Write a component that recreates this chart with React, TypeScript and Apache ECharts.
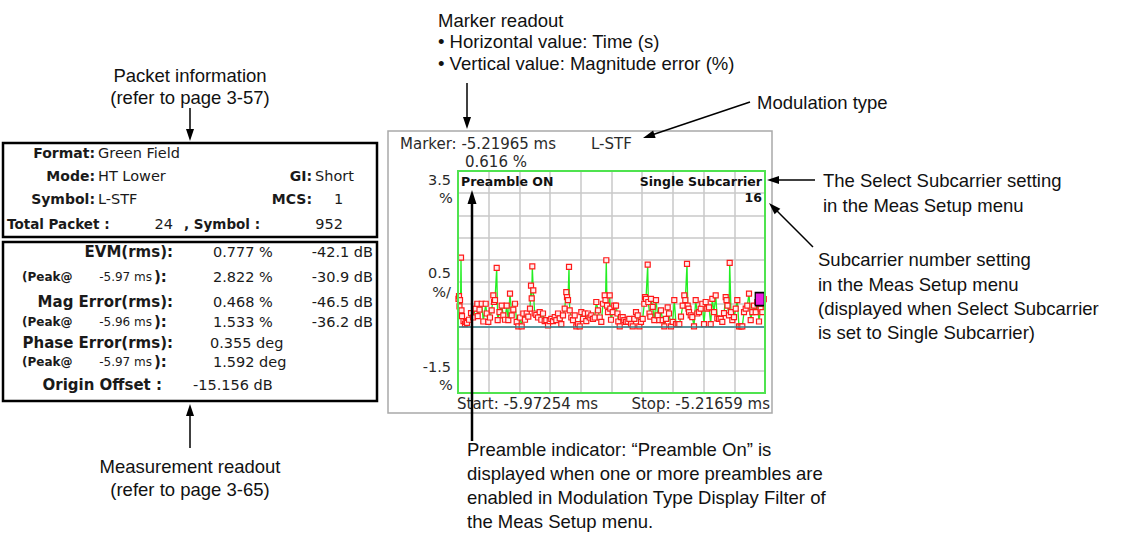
import React, { useEffect, useRef } from "react";
import * as echarts from "echarts";

// ---------- data ----------
const START_MS = -5.97254;
const STOP_MS = -5.21659;
const MARKER_MS = -5.21965;
const MARKER_PCT = 0.616;
const MOD_TYPE = "L-STF";

const timeMs = [
  -5.97131, -5.97008, -5.96885, -5.96762, -5.96638, -5.96515, -5.96392, -5.96269, -5.959, -5.9553,
  -5.95358, -5.95038, -5.94545, -5.94053, -5.9356, -5.92945, -5.92502, -5.92403, -5.9196, -5.91418,
  -5.91024, -5.90433, -5.90187, -5.89793, -5.89374, -5.88956, -5.88562, -5.88389, -5.88143, -5.87725,
  -5.87478, -5.87035, -5.86493, -5.86099, -5.85681, -5.85262, -5.84868, -5.8445, -5.84031, -5.83637,
  -5.83218, -5.828, -5.82406, -5.81987, -5.81569, -5.81175, -5.80756, -5.80337, -5.79943, -5.79525,
  -5.79278, -5.79106, -5.78958, -5.78712, -5.78367, -5.77973, -5.77555, -5.77136, -5.76742, -5.76324,
  -5.75905, -5.75511, -5.75092, -5.74674, -5.7428, -5.73861, -5.73443, -5.73049, -5.7263, -5.72211,
  -5.71817, -5.71399, -5.7098, -5.70586, -5.70414, -5.70168, -5.69921, -5.69749, -5.69355, -5.68936,
  -5.68518, -5.68124, -5.67705, -5.67287, -5.66893, -5.66474, -5.66056, -5.65662, -5.65243, -5.64824,
  -5.6443, -5.64012, -5.63593, -5.63199, -5.6278, -5.62362, -5.61968, -5.61549, -5.61131, -5.60934,
  -5.60737, -5.60564, -5.60318, -5.599, -5.59752, -5.59579, -5.59161, -5.58767, -5.58348, -5.57979,
  -5.57782, -5.57437, -5.57117, -5.56698, -5.56304, -5.55886, -5.55467, -5.55073, -5.54654, -5.54236,
  -5.53842, -5.53423, -5.53005, -5.52611, -5.52192, -5.51773, -5.51379, -5.51207, -5.50961, -5.50542,
  -5.50394, -5.50099, -5.49902, -5.4973, -5.49311, -5.48917, -5.48498, -5.4808, -5.47686, -5.47267,
  -5.46849, -5.46455, -5.46036, -5.45618, -5.45298, -5.44805, -5.44387, -5.43993, -5.43574, -5.43156,
  -5.42762, -5.42343, -5.41924, -5.4153, -5.41284, -5.40865, -5.40693, -5.40496, -5.40373, -5.39954,
  -5.3956, -5.39141, -5.38723, -5.38329, -5.3791, -5.37492, -5.37098, -5.36679, -5.3626, -5.35866,
  -5.35448, -5.35029, -5.34635, -5.34217, -5.33798, -5.33404, -5.32985, -5.32567, -5.32173, -5.31754,
  -5.31336, -5.31139, -5.30892, -5.30523, -5.3035, -5.3003, -5.2971, -5.29292, -5.28873, -5.28479,
  -5.28061, -5.27642, -5.27248, -5.26829, -5.26411, -5.26017, -5.25598, -5.2518, -5.24786, -5.24367,
  -5.23948, -5.23554, -5.23136, -5.22717, -5.22323, MARKER_MS,
];

const magErrPct = [
  0.62, 0.68, 0.45, 0.59, 0.3, 1.55, 0.36, 0.23, 0.12, 0.05,
  0.1, 0.08, 0.15, 0.3, 0.2, 0.4, 0.51, 0.23, 0.38, 0.51,
  0.11, 0.51, 0.29, 0.1, 0.2, 0.36, 0.7, 0.55, 0.59, 1.32,
  0.14, 0.32, 0.47, 0.25, 0.15, 0.47, 0.14, 0.74, 0.25, 0.38,
  0.51, 0.1, 0.0, 0.2, 0.0, 0.29, 0.15, 0.29, 0.22, 0.4,
  0.92, 0.63, 1.35, 0.81, 0.29, 0.26, 0.2, 0.32, 0.15, 0.29,
  0.12, 0.14, 0.02, 0.12, 0.17, 0.12, 0.21, 0.14, 0.29, 0.18,
  0.05, 0.25, 0.4, 0.77, 0.66, 0.59, 1.34, 0.36, 0.2, 0.14,
  0.25, 0.0, 0.05, 0.0, 0.32, 0.17, 0.29, 0.12, 0.29, 0.2,
  0.25, 0.17, 0.2, 0.55, 0.36, 0.2, 0.1, 0.51, 0.7, 0.59,
  1.49, 0.47, 0.32, 0.7, 0.4, 0.15, 0.32, 0.47, 0.47, 0.29,
  0.11, 0.0, 0.21, 0.21, 0.14, 0.1, 0.11, 0.17, 0.05, 0.0,
  0.17, 0.32, 0.25, 0.0, 0.1, 0.17, 0.51, 0.66, 0.62, 1.39,
  0.55, 0.29, 0.22, 0.62, 0.44, 0.14, 0.59, 0.25, 0.14, 0.36,
  0.14, 0.0, 0.17, 0.43, 0.29, 0.0, 0.1, 0.59, 0.05, 0.05,
  0.05, 0.22, 0.47, 0.7, 0.59, 1.41, 0.47, 0.4, 0.32, 0.25,
  0.21, 0.0, 0.59, 0.29, 0.32, 0.4, 0.51, 0.05, 0.55, 0.4,
  0.43, 0.05, 0.62, 0.32, 0.7, 0.18, 0.17, 0.17, 0.1, 0.3,
  0.66, 0.59, 0.47, 0.25, 1.43, 0.32, 0.14, 0.21, 0.4, 0.59,
  0.0, 0.0, 0.0, 0.32, 0.4, 0.47, 0.74, 0.14, 0.32, 0.47,
  0.32, 0.55, 0.11, 0.4, 0.32, MARKER_PCT,
];

const yTickText = ["3.5", "0.5", "-1.5"];
const yTickUnit = ["%", "%/", "%"];

const packetInfo = {
  format: "Green Field",
  mode: "HT Lower",
  gi: "Short",
  symbol: "L-STF",
  mcs: "1",
  totalPacket: "24",
  symbolCount: "952",
};

const measLabels = ["EVM(rms):", "Mag Error(rms):", "Phase Error(rms):"];
const measRms = ["0.777 %", "0.468 %", "0.355 deg"];
const measRmsDb = ["-42.1 dB", "-46.5 dB", ""];
const peakTimes = ["-5.97 ms", "-5.96 ms", "-5.97 ms"];
const measPeak = ["2.822 %", "1.533 %", "1.592 deg"];
const measPeakDb = ["-30.9 dB", "-36.2 dB", ""];
const originOffset = "-15.156 dB";

// ---------- helpers ----------
const SCREEN_FONT = '"DejaVu Sans", Verdana, sans-serif';
const NOTE_FONT = '"Liberation Sans", Arial, Helvetica, sans-serif';

function txt(
  x: number,
  y: number,
  text: string,
  opts: { size?: number; bold?: boolean; align?: string; font?: string; color?: string } = {}
) {
  const size = opts.size ?? 14;
  const fam = opts.font ?? SCREEN_FONT;
  const font = `${opts.bold ? "bold " : ""}${size}px ${fam}`;
  const align = opts.align ?? "left";
  return {
    type: "text",
    x,
    y,
    z: 50,
    style: {
      text,
      font,
      fill: opts.color ?? "#1a1a1a",
      align,
      verticalAlign: "middle",
      textAlign: align,
      textVerticalAlign: "middle",
    },
  };
}

function arrow(x1: number, y1: number, x2: number, y2: number, lw = 1.5, hl = 12, hw = 4) {
  const dx = x2 - x1;
  const dy = y2 - y1;
  const L = Math.hypot(dx, dy);
  const ux = dx / L;
  const uy = dy / L;
  const bx = x2 - ux * hl;
  const by = y2 - uy * hl;
  const px = -uy;
  const py = ux;
  return [
    {
      type: "line",
      z: 100,
      shape: { x1, y1, x2: bx + ux * 2, y2: by + uy * 2 },
      style: { stroke: "#000", lineWidth: lw },
    },
    {
      type: "polygon",
      z: 100,
      shape: {
        points: [
          [x2, y2],
          [bx + px * hw, by + py * hw],
          [bx - px * hw, by - py * hw],
        ],
      },
      style: { fill: "#000" },
    },
  ];
}

function buildGraphics() {
  const g: any[] = [];
  const note = (x: number, y: number, t: string, align = "left") =>
    g.push(txt(x, y, t, { size: 18.5, font: NOTE_FONT, align, color: "#111" }));

  // ---- annotations ----
  note(190, 75, "Packet information", "center");
  note(190, 97, "(refer to page 3-57)", "center");
  g.push(...arrow(190, 108, 190, 141));

  note(190, 466, "Measurement readout", "center");
  note(190, 489, "(refer to page 3-65)", "center");
  g.push(...arrow(190, 448, 190, 404));

  note(438, 20, "Marker readout");
  note(438, 41.5, "\u2022 Horizontal value: Time (s)");
  note(438, 63, "\u2022 Vertical value: Magnitude error (%)");
  g.push(...arrow(467, 83, 467, 129));

  note(757, 102, "Modulation type");
  g.push(...arrow(750, 102, 643, 138));

  note(823, 180, "The Select Subcarrier setting");
  note(823, 205, "in the Meas Setup menu");
  g.push(...arrow(815, 180, 767, 180));

  note(818, 259, "Subcarrier number setting");
  note(818, 284, "in the Meas Setup menu");
  note(818, 308, "(displayed when Select Subcarrier");
  note(818, 332, "is set to Single Subcarrier)");
  g.push(...arrow(813, 247, 769, 203));

  note(467, 449, "Preamble indicator: \u201cPreamble On\u201d is");
  note(467, 473, "displayed when one or more preambles are");
  note(467, 497, "enabled in Modulation Type Display Filter of");
  note(467, 521, "the Meas Setup menu.");
  g.push(...arrow(472, 441, 472, 190, 2.5, 14, 4.5));

  // ---- screen frame ----
  g.push({
    type: "rect",
    z: 1,
    shape: { x: 388, y: 131, width: 384, height: 282 },
    style: { fill: "none", stroke: "#a9a9a9", lineWidth: 1.5 },
  });
  // green plot frame (same box as the grid)
  g.push({
    type: "rect",
    z: 20,
    shape: { x: 458, y: 171, width: 307, height: 222 },
    style: { fill: "none", stroke: "#4fe34f", lineWidth: 2 },
  });
  const SC = "#2a2a2a";
  g.push(txt(400, 143.5, `Marker: ${MARKER_MS} ms`, { size: 15, color: SC }));
  g.push(txt(591, 143.5, MOD_TYPE, { size: 15, color: SC }));
  g.push(txt(465, 161.5, `${MARKER_PCT.toFixed(3)} %`, { size: 15, color: SC }));

  g.push(txt(451, 180, yTickText[0], { size: 14.5, align: "right", color: SC }));
  g.push(txt(446, 198, yTickUnit[0], { size: 14.5, align: "center", color: SC }));
  g.push(txt(451, 273, yTickText[1], { size: 14.5, align: "right", color: SC }));
  g.push(txt(451, 292, yTickUnit[1], { size: 14.5, align: "right", color: SC }));
  g.push(txt(451, 367, yTickText[2], { size: 14.5, align: "right", color: SC }));
  g.push(txt(446, 385, yTickUnit[2], { size: 14.5, align: "center", color: SC }));

  g.push(txt(457, 404, `Start: ${START_MS} ms`, { size: 15, color: SC }));
  g.push(txt(770, 404, `Stop: ${STOP_MS} ms`, { size: 15, align: "right", color: SC }));

  g.push(txt(461, 181, "Preamble ON", { size: 12.5, bold: true, color: "#111" }));
  g.push(txt(762, 181, "Single Subcarrier", { size: 12.5, bold: true, align: "right", color: "#111" }));
  g.push(txt(762, 197, "16", { size: 12.5, bold: true, align: "right", color: "#111" }));

  // ---- left panels ----
  g.push({
    type: "rect",
    z: 1,
    shape: { x: 3, y: 143, width: 374, height: 94 },
    style: { fill: "none", stroke: "#000", lineWidth: 2.5 },
  });
  g.push({
    type: "rect",
    z: 1,
    shape: { x: 3, y: 242, width: 374, height: 159 },
    style: { fill: "none", stroke: "#000", lineWidth: 2.5 },
  });
  const P = 14.5;
  const B = 14;
  const B2 = 15;
  g.push(txt(95, 153, "Format:", { size: B, bold: true, align: "right" }));
  g.push(txt(98, 153, packetInfo.format, { size: P }));
  g.push(txt(95, 175.5, "Mode:", { size: B, bold: true, align: "right" }));
  g.push(txt(98, 175.5, packetInfo.mode, { size: P }));
  g.push(txt(312, 175.5, "GI:", { size: B, bold: true, align: "right" }));
  g.push(txt(315, 175.5, packetInfo.gi, { size: P }));
  g.push(txt(95, 199, "Symbol:", { size: B, bold: true, align: "right" }));
  g.push(txt(98, 199, packetInfo.symbol, { size: P }));
  g.push(txt(312, 199, "MCS:", { size: B, bold: true, align: "right" }));
  g.push(txt(334, 199, packetInfo.mcs, { size: P }));
  g.push(txt(7, 224, "Total Packet :", { size: 13.5, bold: true }));
  g.push(txt(173, 224, packetInfo.totalPacket, { size: P, align: "right" }));
  g.push(txt(184, 224, ", Symbol :", { size: 13.5, bold: true }));
  g.push(txt(343, 224, packetInfo.symbolCount, { size: P, align: "right" }));

  const rowY = [
    [252, 277],
    [301.5, 322],
    [343, 362],
  ];
  for (let i = 0; i < 3; i++) {
    const [ya, yb] = rowY[i];
    g.push(txt(173, ya, measLabels[i], { size: B2, bold: true, align: "right" }));
    g.push(txt(i === 2 ? 210 : 213, ya, measRms[i], { size: P }));
    if (measRmsDb[i]) g.push(txt(373, ya, measRmsDb[i], { size: P, align: "right" }));
    g.push(txt(22, yb, "(Peak@", { size: 12, bold: true }));
    g.push(txt(152, yb, peakTimes[i], { size: 12, align: "right" }));
    g.push(txt(154, yb, "):", { size: B2, bold: true }));
    g.push(txt(213, yb, measPeak[i], { size: P }));
    if (measPeakDb[i]) g.push(txt(373, yb, measPeakDb[i], { size: P, align: "right" }));
  }
  g.push(txt(162, 385, "Origin Offset :", { size: B2, bold: true, align: "right" }));
  g.push(txt(193, 385, originOffset, { size: P }));

  return g;
}

export default function App() {
  const ref = useRef<HTMLDivElement>(null);

  useEffect(() => {
    if (!ref.current) return;
    const chart = echarts.init(ref.current, undefined, { renderer: "svg" });
    const points = timeMs.map((t, i) => [t, magErrPct[i]]);
    const gridLine = { show: true, lineStyle: { color: "#c8c8c8", width: 1.5 } };
    chart.setOption({
      animation: false,
      backgroundColor: "#ffffff",
      grid: {
        left: 458,
        top: 171,
        width: 307,
        height: 222,
        show: false,
      },
      xAxis: [
        { type: "value", min: START_MS, max: STOP_MS, show: false },
        {
          type: "value",
          min: 0,
          max: 10,
          interval: 1,
          position: "bottom",
          axisLine: { show: false },
          axisTick: { show: false },
          axisLabel: { show: false },
          splitLine: gridLine,
        },
      ],
      yAxis: {
        type: "value",
        min: -1.5,
        max: 3.5,
        interval: 0.5,
        axisLine: { show: false },
        axisTick: { show: false },
        axisLabel: { show: false },
        splitLine: gridLine,
      },
      series: [
        {
          type: "line",
          xAxisIndex: 0,
          data: points,
          lineStyle: { color: "#22ee22", width: 1.3 },
          symbol: "rect",
          symbolSize: 5,
          itemStyle: { color: "#ffecec", borderColor: "#ff1a1a", borderWidth: 1.2 },
          markLine: {
            silent: true,
            symbol: "none",
            label: { show: false },
            lineStyle: { color: "#2f7f88", width: 1.5, type: "solid" },
            data: [{ yAxis: 0 }],
          },
          markPoint: {
            silent: true,
            symbol: "rect",
            symbolSize: [9, 13],
            symbolOffset: [-4, 0],
            label: { show: false },
            itemStyle: { color: "#e81ee0", borderColor: "#000", borderWidth: 1.5 },
            data: [{ coord: [MARKER_MS, MARKER_PCT] }],
          },
          z: 3,
        },
      ],
      graphic: buildGraphics(),
    });
    return () => chart.dispose();
  }, []);

  return (
    <div
      ref={ref}
      style={{ position: "absolute", left: 0, top: 0, width: 1129, height: 539, background: "#fff" }}
    />
  );
}
